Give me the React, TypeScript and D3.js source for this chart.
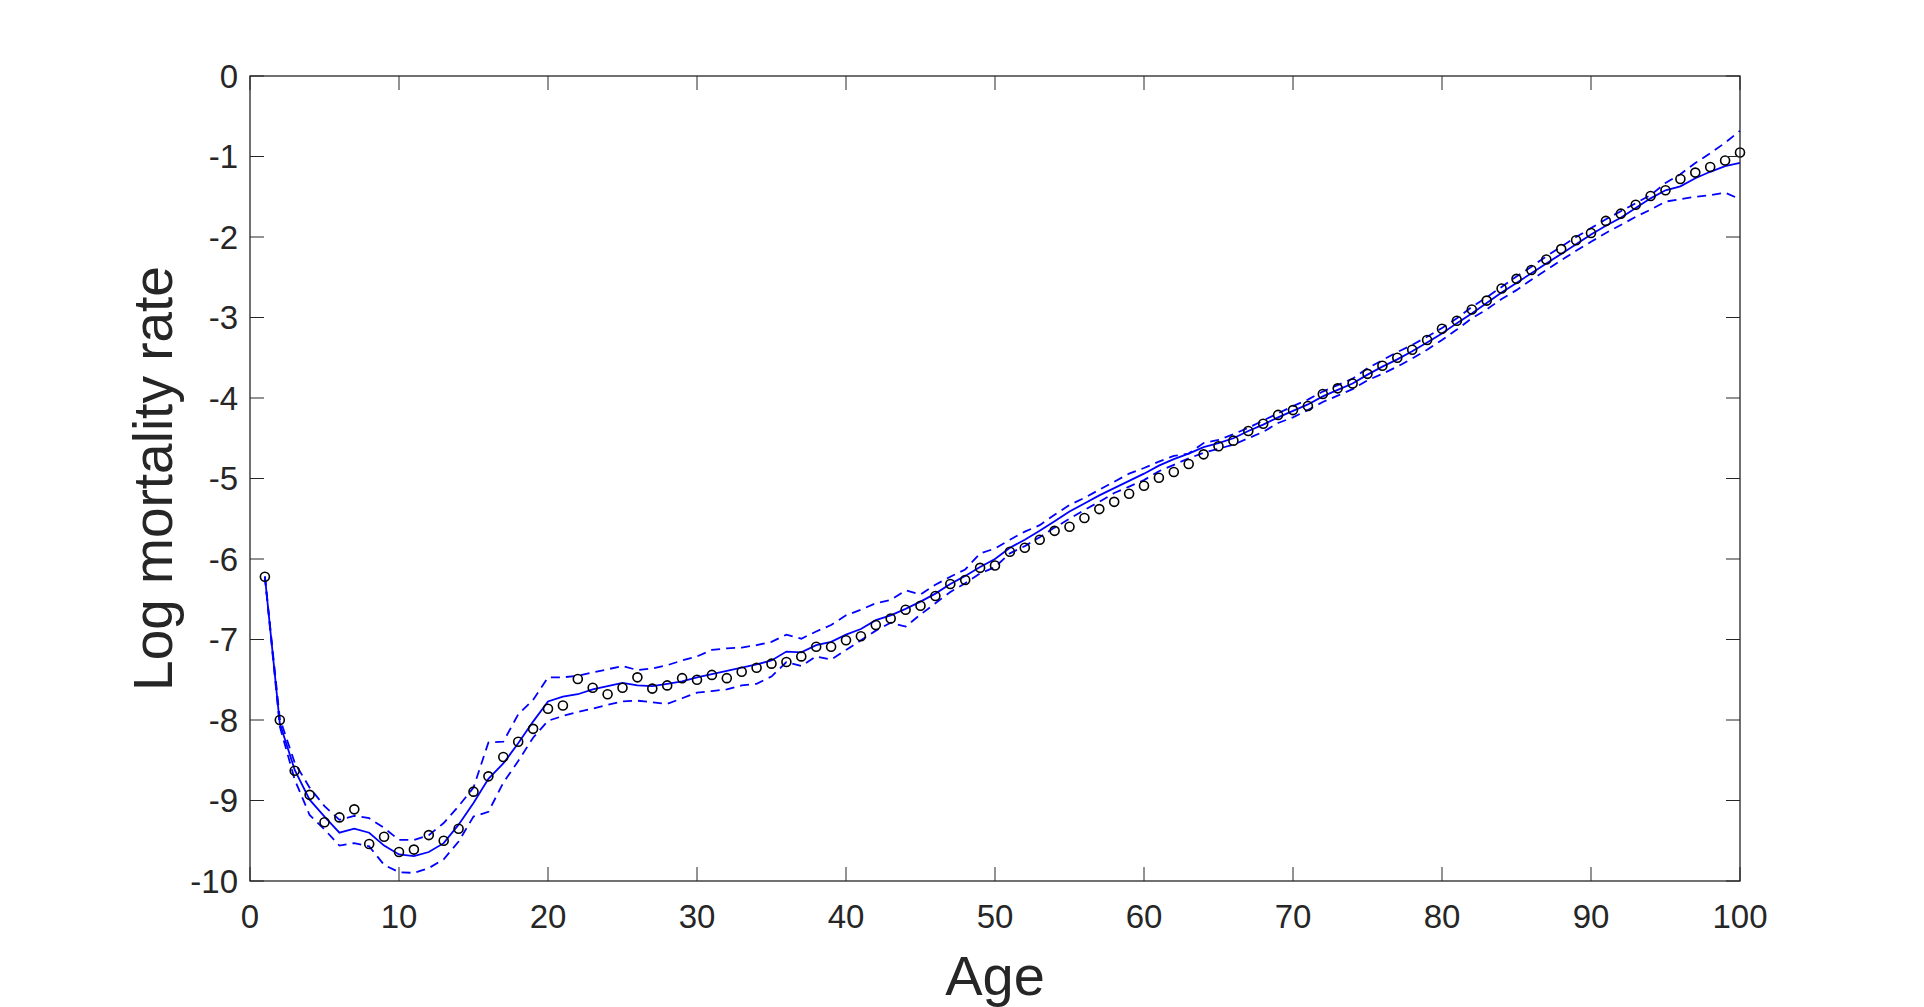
import * as d3 from "d3"

const ages = d3.range(1, 101)

// observed log mortality (circles)
const observed = [
  -6.22, -8.0, -8.63, -8.93, -9.27, -9.21, -9.11, -9.54, -9.45, -9.64,
  -9.61, -9.43, -9.5, -9.35, -8.89, -8.7, -8.46, -8.27, -8.11, -7.86,
  -7.82, -7.49, -7.6, -7.68, -7.6, -7.47, -7.61, -7.57, -7.48, -7.5,
  -7.44, -7.48, -7.4, -7.35, -7.3, -7.28, -7.21, -7.09, -7.09, -7.01,
  -6.96, -6.82, -6.74, -6.63, -6.58, -6.46, -6.31, -6.26, -6.11, -6.08,
  -5.91, -5.86, -5.76, -5.65, -5.6, -5.49, -5.38, -5.29, -5.19, -5.09,
  -4.99, -4.92, -4.82, -4.7, -4.6, -4.53, -4.41, -4.32, -4.21, -4.15,
  -4.1, -3.95, -3.88, -3.82, -3.7, -3.6, -3.5, -3.4, -3.28, -3.14,
  -3.04, -2.9, -2.79, -2.64, -2.52, -2.41, -2.28, -2.15, -2.04, -1.95,
  -1.8, -1.71, -1.6, -1.49, -1.42, -1.28, -1.2, -1.13, -1.05, -0.95,
]

// fitted curve (solid)
const fitted = [
  -6.22, -8.04, -8.62, -8.99, -9.2, -9.4, -9.35, -9.4, -9.56, -9.67,
  -9.69, -9.64, -9.53, -9.3, -9.03, -8.73, -8.54, -8.29, -8.02, -7.77,
  -7.71, -7.68, -7.62, -7.58, -7.54, -7.57, -7.58, -7.55, -7.52, -7.47,
  -7.43, -7.39, -7.35, -7.31, -7.26, -7.15, -7.16, -7.07, -7.03, -6.94,
  -6.87, -6.76, -6.7, -6.62, -6.53, -6.43, -6.31, -6.21, -6.1, -6.0,
  -5.86, -5.76, -5.65, -5.53, -5.41, -5.31, -5.21, -5.12, -5.03, -4.94,
  -4.84, -4.76, -4.69, -4.61, -4.56, -4.5, -4.41, -4.33, -4.24, -4.16,
  -4.08, -3.98, -3.9, -3.82, -3.71, -3.61, -3.52, -3.42, -3.31, -3.2,
  -3.07, -2.95, -2.82, -2.69, -2.57, -2.45, -2.33, -2.21, -2.09, -1.97,
  -1.86, -1.76, -1.64, -1.52, -1.42, -1.37, -1.27, -1.19, -1.12, -1.08,
]

// upper band (dashed)
const upper = [
  -6.22, -7.98, -8.53, -8.84, -9.07, -9.24, -9.19, -9.22, -9.34, -9.49,
  -9.49, -9.43, -9.28, -9.07, -8.84, -8.28, -8.27, -7.93, -7.75, -7.47,
  -7.47, -7.45, -7.41, -7.37, -7.33, -7.38, -7.36, -7.32, -7.26, -7.21,
  -7.13, -7.11, -7.1, -7.07, -7.03, -6.94, -6.99, -6.9, -6.82, -6.7,
  -6.63, -6.55, -6.51, -6.39, -6.44, -6.32, -6.22, -6.13, -5.93, -5.87,
  -5.76, -5.66, -5.58, -5.45, -5.33, -5.24, -5.14, -5.04, -4.94, -4.87,
  -4.79, -4.72, -4.69, -4.56, -4.52, -4.45, -4.37, -4.28, -4.19, -4.1,
  -4.02, -3.92, -3.84, -3.76, -3.63, -3.53, -3.43, -3.34, -3.24, -3.13,
  -3.01, -2.87, -2.75, -2.62, -2.49, -2.37, -2.24, -2.12, -2.0, -1.89,
  -1.78, -1.68, -1.58, -1.48, -1.33, -1.22, -1.08, -0.96, -0.83, -0.68,
]

// lower band (dashed)
const lower = [
  -6.22, -8.08, -8.74, -9.18, -9.36, -9.56, -9.53, -9.57, -9.8, -9.89,
  -9.9, -9.84, -9.73, -9.51, -9.2, -9.14, -8.78, -8.51, -8.22, -8.01,
  -7.95, -7.9, -7.86, -7.81, -7.77, -7.76, -7.78, -7.8, -7.73, -7.66,
  -7.64, -7.62, -7.57, -7.55, -7.46, -7.28, -7.33, -7.21, -7.25, -7.13,
  -7.01, -6.89, -6.79, -6.84, -6.69, -6.55, -6.41, -6.3, -6.18, -6.1,
  -5.93, -5.84, -5.73, -5.61, -5.5, -5.39, -5.29, -5.18, -5.1, -5.02,
  -4.91, -4.83, -4.75, -4.68, -4.63, -4.58, -4.5, -4.42, -4.31, -4.24,
  -4.15, -4.05, -3.97, -3.89, -3.78, -3.7, -3.61, -3.51, -3.4, -3.28,
  -3.15, -3.01, -2.9, -2.77, -2.66, -2.53, -2.41, -2.29, -2.17, -2.06,
  -1.95, -1.85, -1.75, -1.66, -1.56, -1.53, -1.5, -1.48, -1.45, -1.53,
]

const xTicks = [0, 10, 20, 30, 40, 50, 60, 70, 80, 90, 100]
const yTicks = [0, -1, -2, -3, -4, -5, -6, -7, -8, -9, -10]

const W = 1924
const H = 1007
const margin = { top: 76, right: 184, bottom: 126, left: 250 }
const font = "'Liberation Sans', Arial, Helvetica, sans-serif"
const axisColor = "#262626"
const blue = "#0000ff"
const tickLen = 14

export default function App() {
  const x = d3.scaleLinear().domain([0, 100]).range([margin.left, W - margin.right])
  const y = d3.scaleLinear().domain([-10, 0]).range([H - margin.bottom, margin.top])

  const line = d3
    .line<number>()
    .x((_, i) => x(ages[i]))
    .y((d) => y(d))

  const [x0, x1] = x.range()
  const [y0, y1] = y.range() // y0 bottom, y1 top

  return (
    <svg
      width={W}
      height={H}
      style={{ position: "absolute", left: 0, top: 0, background: "#fff" }}
    >
      <rect x={0} y={0} width={W} height={H} fill="#fff" />

      {/* bands + fit */}
      <path d={line(upper)!} fill="none" stroke={blue} strokeWidth={1.8} strokeDasharray="9,6" />
      <path d={line(lower)!} fill="none" stroke={blue} strokeWidth={1.8} strokeDasharray="9,6" />
      <path d={line(fitted)!} fill="none" stroke={blue} strokeWidth={1.8} />

      {/* observed */}
      {observed.map((v, i) => (
        <circle
          key={i}
          cx={x(ages[i])}
          cy={y(v)}
          r={4.5}
          fill="none"
          stroke="#000"
          strokeWidth={1.6}
        />
      ))}

      {/* box */}
      <rect
        x={x0}
        y={y1}
        width={x1 - x0}
        height={y0 - y1}
        fill="none"
        stroke={axisColor}
        strokeWidth={1.3}
      />

      {/* x ticks */}
      {xTicks.map((t) => (
        <g key={"x" + t}>
          <line x1={x(t)} x2={x(t)} y1={y0} y2={y0 - tickLen} stroke={axisColor} strokeWidth={1} />
          <line x1={x(t)} x2={x(t)} y1={y1} y2={y1 + tickLen} stroke={axisColor} strokeWidth={1} />
          <text
            x={x(t)}
            y={y0 + 47}
            textAnchor="middle"
            fontFamily={font}
            fontSize={33}
            fill={axisColor}
          >
            {String(t)}
          </text>
        </g>
      ))}

      {/* y ticks */}
      {yTicks.map((t) => (
        <g key={"y" + t}>
          <line x1={x0} x2={x0 + tickLen} y1={y(t)} y2={y(t)} stroke={axisColor} strokeWidth={1} />
          <line x1={x1} x2={x1 - tickLen} y1={y(t)} y2={y(t)} stroke={axisColor} strokeWidth={1} />
          <text
            x={x0 - 12}
            y={y(t)}
            dy="0.35em"
            textAnchor="end"
            fontFamily={font}
            fontSize={33}
            fill={axisColor}
          >
            {String(t)}
          </text>
        </g>
      ))}

      {/* labels */}
      <text
        x={(x0 + x1) / 2}
        y={995}
        textAnchor="middle"
        fontFamily={font}
        fontSize={56}
        fill={axisColor}
      >
        Age
      </text>
      <text
        transform={`translate(172,${(y0 + y1) / 2}) rotate(-90)`}
        textAnchor="middle"
        fontFamily={font}
        fontSize={55}
        fill={axisColor}
      >
        Log mortality rate
      </text>
    </svg>
  )
}
